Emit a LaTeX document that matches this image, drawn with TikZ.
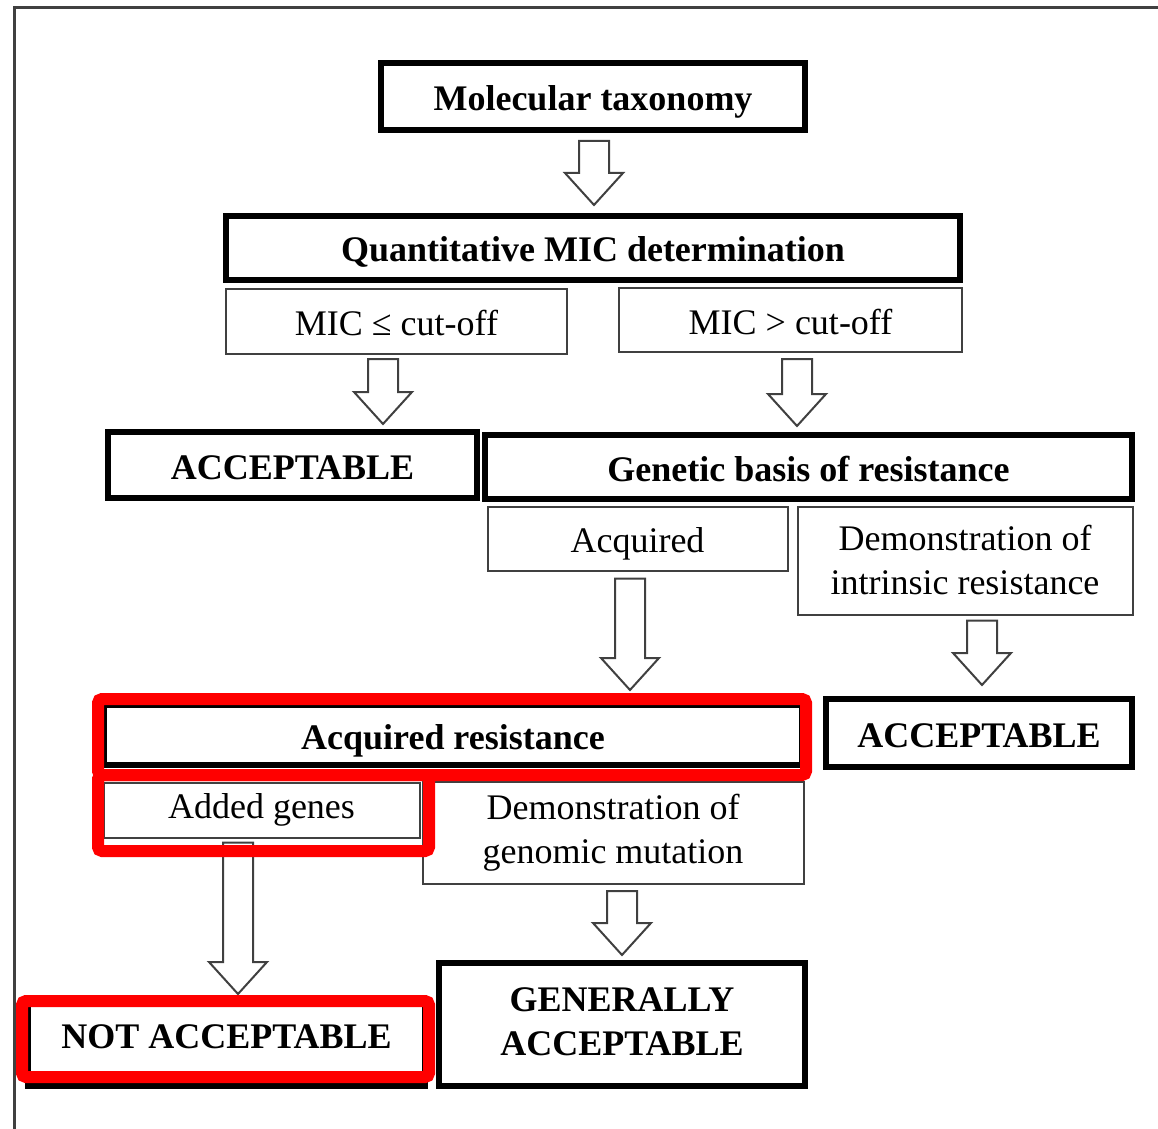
\documentclass[tikz,border=0pt]{standalone}
\usepackage{fontspec}
\setmainfont{Liberation Serif}
\usetikzlibrary{calc}
\newcommand{\boxfont}{\fontsize{18}{22}\selectfont}
\tikzset{
    bbox/.style={draw,line width=3pt,font=\boxfont\bfseries,align=center,inner sep=0pt},
    tbox/.style={draw=black!75,line width=1pt,font=\boxfont,align=center,inner sep=0pt},
    oneline/.style={text height=14pt,text depth=0pt},
    hilite/.style={draw=red,line width=6pt,rounded corners=2pt},
    barrow/.style={draw=black!75,fill=white,line width=1pt},
    frame/.style={draw=black!75,line width=1.5pt},
}
% #1 axis, #2 from, #3 to, #4 gap below #2, #5 gap above #3
\newcommand{\blockarrow}[5]{%
    \draw[barrow]
        ($(#1 |- #2.south)+(-15,#4)$) -- ($(#1 |- #2.south)+(15,#4)$)
        -- ($(#1 |- #3.north)+(15,{-#5-32})$) -- ($(#1 |- #3.north)+(29,{-#5-32})$)
        -- ($(#1 |- #3.north)+(0,-#5)$)
        -- ($(#1 |- #3.north)+(-29,{-#5-32})$) -- ($(#1 |- #3.north)+(-15,{-#5-32})$)
        -- cycle;
}

\begin{document}
\begin{tikzpicture}[x=0.5pt,y=-0.5pt]
\useasboundingbox (0,0) rectangle (1158,1129);
\draw[frame] (14,1129) -- (14,8) -- (1158,8);

\node[bbox,oneline,minimum width=212pt,minimum height=33.5pt] (tax) at (593,96.5) {Molecular taxonomy};
\node[bbox,oneline,minimum width=367pt,minimum height=32pt] (mic) at (593,248) {Quantitative MIC determination};
\node[tbox,oneline,minimum width=170.5pt,minimum height=32.5pt] (low) at (396.5,321.5) {MIC ≤ cut-off};
\node[tbox,oneline,minimum width=171.5pt,minimum height=32pt] (high) at (790.5,320) {MIC > cut-off};
\node[bbox,oneline,minimum width=184.5pt,minimum height=33pt] (accl) at (292.5,465) {ACCEPTABLE};
\node[bbox,oneline,minimum width=323.5pt,minimum height=32pt] (gen) at (808.5,467) {Genetic basis of resistance};
\node[tbox,oneline,minimum width=150pt,minimum height=32pt] (acq) at (637.5,538.5) {Acquired};
\node[tbox,minimum width=167.5pt,minimum height=54pt] (intr) at (965,560.5) {Demonstration of\\intrinsic resistance};
\node[bbox,oneline,minimum width=153pt,minimum height=34pt] (accr) at (979,733) {ACCEPTABLE};
\node[bbox,oneline,minimum width=349pt,minimum height=30pt] (acres) at (453,735) {Acquired resistance};
\node[tbox,minimum width=158pt,minimum height=27.5pt] (added) at (261.5,810) {Added genes};
\node[tbox,minimum width=190.5pt,minimum height=51pt] (genom) at (613,833) {Demonstration of\\genomic mutation};
\node[bbox,minimum width=183pt,minimum height=61.5pt] (genacc) at (622,1024.5) {\raisebox{1pt}{\begin{tabular}{@{}c@{}}GENERALLY\\ACCEPTABLE\end{tabular}}};
\node[bbox,minimum width=198.5pt,minimum height=42pt] (notacc) at (226.5,1044) {\raisebox{7.5pt}{NOT ACCEPTABLE}};

\coordinate (a1) at (594,0);
\coordinate (a2) at (383,0);
\coordinate (a3) at (797,0);
\coordinate (a4) at (630,0);
\coordinate (a5) at (982,0);
\coordinate (a6) at (238,0);
\coordinate (a7) at (622,0);
\blockarrow{a1}{tax}{mic}{8}{8}
\blockarrow{a2}{low}{accl}{4}{5}
\blockarrow{a3}{high}{gen}{6}{6}
\blockarrow{a4}{acq}{acres}{7}{12}
\blockarrow{a5}{intr}{accr}{5}{11}
\blockarrow{a6}{added}{notacc}{4}{5}
\blockarrow{a7}{genom}{genacc}{6}{5}

% red marks
\draw[hilite] (98,699) rectangle (806,775);
\draw[hilite] (98,775) rectangle (429,851);
\draw[hilite] (22,1001) rectangle (429,1077);
\end{tikzpicture}
\end{document}
